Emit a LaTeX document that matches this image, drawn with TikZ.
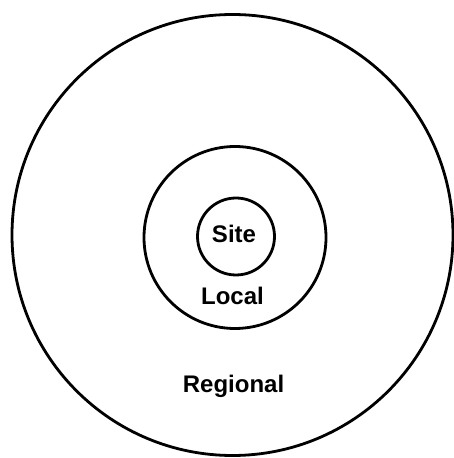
\documentclass[tikz,border=0pt]{standalone}
\usepackage{fontspec}
\setmainfont{Liberation Sans}

\begin{document}
\begin{tikzpicture}[x=1pt,y=1pt,line cap=round,line join=round,
  zone/.style={circle,draw,line width=2.8pt,inner sep=0pt},
  zonelabel/.style={anchor=base,font=\fontsize{24}{28}\selectfont\bfseries}]
  \useasboundingbox (0,0) rectangle (454,458);
  \node[zone,minimum size=441pt] (regional) at (232.5,223) {};
  \node[zone,minimum size=182pt] (local) at (235,220.5) {};
  \node[zone,minimum size=77pt] (site) at (236,221.5) {};
  \node[zonelabel] (sitename) at (234,215) {Site};
  \node[zonelabel] (localname) at (232.5,153) {Local};
  \node[zonelabel] (regionalname) at (233.5,65) {Regional};
\end{tikzpicture}
\end{document}
